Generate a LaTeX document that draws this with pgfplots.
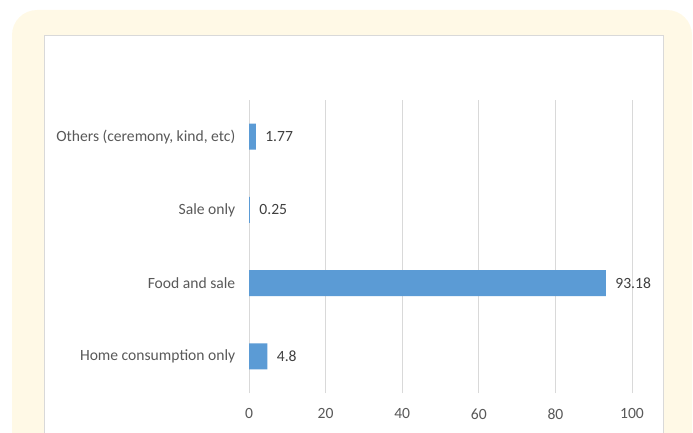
\documentclass[border=0pt]{standalone}
\usepackage{pgfplots}
\pgfplotsset{compat=1.18}
\usepackage{fontspec}
\setmainfont{Carlito}
\definecolor{cream}{HTML}{FFF9E6}
\definecolor{barblue}{HTML}{5B9BD5}
\definecolor{gridgray}{HTML}{D9D9D9}
\definecolor{txtgray}{HTML}{595959}
\definecolor{lblgray}{HTML}{404040}
\begin{document}
\begin{tikzpicture}[x=1bp,y=1bp]
\path[use as bounding box] (0,0) rectangle (693,432);
\begin{scope}
\clip (0,0) rectangle (693,432);
\fill[cream,rounded corners=25bp] (12,422) rectangle (692,-40);
\filldraw[fill=white,draw=gridgray,line width=0.8bp] (44,397) rectangle (663,-5);
\end{scope}
\begin{axis}[
  at={(249bp,39bp)}, anchor=south west,
  scale only axis, width=383bp, height=293bp,
  xbar, bar width=26bp,
  xmin=0, xmax=100, ymin=-0.5, ymax=3.5,
  xtick={0,20,40,60,80,100},
  ytick={0,1,2,3},
  yticklabels={Home consumption only,Food and sale,Sale only,{Others (ceremony, kind, etc)}},
  axis line style={draw=none},
  tick style={draw=none},
  xmajorgrids, grid style={gridgray, line width=0.8bp},
  /pgf/number format/assume math mode=true,
  tick label style={font=\fontsize{15.6bp}{18bp}\selectfont, text=txtgray},
  xticklabel style={yshift=-12bp},
  yticklabel style={xshift=-6bp},
  point meta=explicit symbolic,
  nodes near coords,
  nodes near coords style={font=\fontsize{15.6bp}{18bp}\selectfont, text=lblgray, anchor=west, xshift=6bp},
]
\addplot[fill=barblue, draw=none] table[x=v, y=y, meta=lab] {
y v lab
0 4.8 4.8
1 93.18 93.18
2 0.25 0.25
3 1.77 1.77
};
\end{axis}
\end{tikzpicture}
\end{document}
